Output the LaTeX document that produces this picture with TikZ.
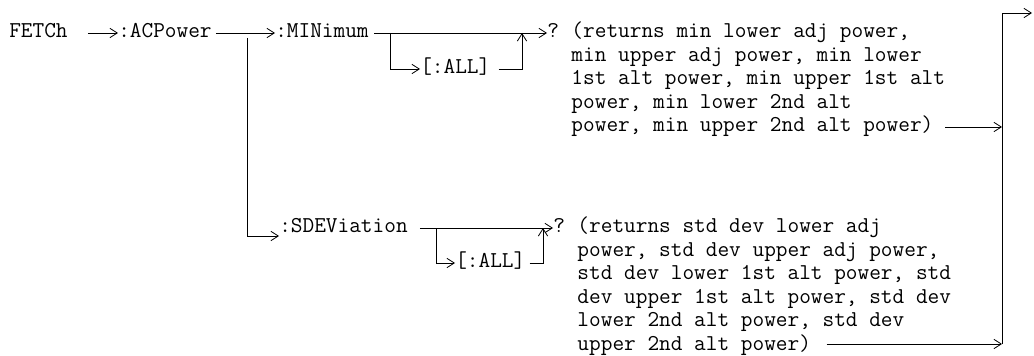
\documentclass[tikz,border=0pt]{standalone}
\usepackage{fontspec}
\usetikzlibrary{arrows.meta, positioning, calc}
\tikzset{
	cmd/.style={inner sep=0pt, anchor=west, text height=10pt, text depth=3pt},
	res/.style={inner sep=0pt, anchor=base west, align=left},
	sig/.style={-{Straight Barb[length=5.5pt,width=7pt]}, line width=0.6pt},
}
\begin{document}
\begin{tikzpicture}[x=0.75pt, y=-0.75pt, font=\ttfamily\fontsize{17}{17.6}\selectfont]
	\useasboundingbox (0,0) rectangle (1034,356);
	% MINimum branch
	\node[cmd] (fetch) at (9,33) {FETCh};
	\node[cmd] (acp) at (118,33) {:ACPower};
	\node[cmd] (min) at (275,33) {:MINimum};
	\node[cmd] (all1) at (420,69) {[:ALL]};
	\node[cmd] (q1) at (547,33) {?};
	% base of a block is its last line
	\node[res] (r1) at ($(q1.base east)+(9pt,-70.4pt)$) {(returns min lower adj power,\\min upper adj power, min lower\\1st alt power, min upper 1st alt\\power, min lower 2nd alt\\power, min upper 2nd alt power)};
	\coordinate (j1) at (247,38);
	\coordinate (b1) at (390,33);
	\coordinate (m1) at (522,33);
	\draw[sig, shorten <=15pt] (fetch.east) -- (acp.west);
	\draw[sig, shorten <=3pt] (acp.east) -- (min.west);
	\draw[sig, shorten <=4pt] (min.east) -- (q1.west);
	\draw[sig] (b1) |- (all1.west);
	\draw[sig, shorten <=6pt] (all1.east) -| (m1);
	% SDEViation branch
	\node[cmd] (sdev) at (279,228) {:SDEViation};
	\node[cmd] (all2) at (455,263) {[:ALL]};
	\node[cmd] (q2) at (553,228) {?};
	\node[res] (r2) at ($(q2.base east)+(9pt,-88pt)$) {(returns std dev lower adj\\power, std dev upper adj power,\\std dev lower 1st alt power, std\\dev upper 1st alt power, std dev\\lower 2nd alt power, std dev\\upper 2nd alt power)};
	\coordinate (b2) at (436,228);
	\coordinate (m2) at (543,228);
	\draw[sig] (j1) |- ([yshift=-6pt]sdev.west);
	\draw[sig, shorten <=9pt] (sdev.east) -- (q2.west);
	\draw[sig] (b2) |- (all2.west);
	\draw[sig, shorten <=3pt] (all2.east) -| (m2);
	% merge on the right
	\coordinate (v1) at (1002,127);
	\coordinate (v2) at (1002,344);
	\coordinate (out) at (1032,13);
	\draw[sig] (r1.east |- v1) -- (v1);
	\draw[sig] ($(r2.west |- v2)+(187pt,0)$) -- (v2);
	\draw[sig] (v2) |- (out);
\end{tikzpicture}
\end{document}
